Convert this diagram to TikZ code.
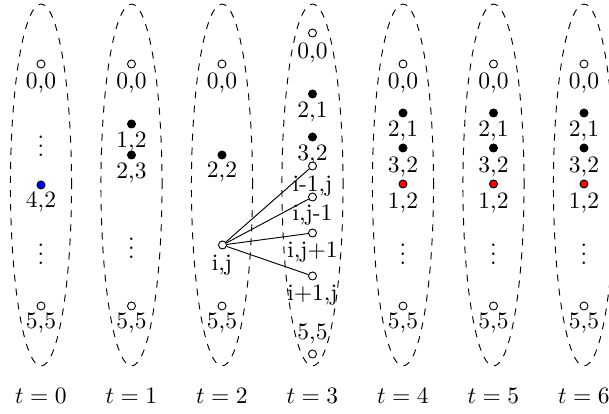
\documentclass[tikz,border=0pt]{standalone}
\usetikzlibrary{shapes.geometric}
\begin{document}
\begin{tikzpicture}[x=0.4255pt,y=-0.4255pt,
  opendot/.style={circle,draw,fill=white,minimum size=3.4pt,inner sep=0pt},
  fulldot/.style={circle,draw,fill=black,minimum size=3.4pt,inner sep=0pt},
  bluedot/.style={fulldot,fill=blue},
  reddot/.style={fulldot,fill=red},
  lab/.style={anchor=base,inner sep=0pt},
  slice/.style={draw,dashed},
  conn/.style={draw}]
\useasboundingbox (0,0) rectangle (609,414);
% slices
\foreach \cx in {41,131.5,222,312.5,403,493.5,584}{
  \path[slice] (\cx,185) ellipse [x radius=13pt, y radius=77pt];
}
% t = 0
\node[opendot] (a00) at (41,64) {};
\node[lab] (a00l) at (41,89) {0,0};
\node[lab] (av1) at (41,157) {$\vdots$};
\node[bluedot] (a42) at (41,185) {};
\node[lab] (a42l) at (41,208) {4,2};
\node[lab] (av2) at (41,265) {$\vdots$};
\node[opendot] (a55) at (41,306) {};
\node[lab] (a55l) at (41,329) {5,5};
\node[lab] (at) at (41,404) {$t=0$};
% t = 1
\node[opendot] (b00) at (131.5,64) {};
\node[lab] (b00l) at (131.5,89) {0,0};
\node[fulldot] (b12) at (131.5,124) {};
\node[lab] (b12l) at (131.5,148) {1,2};
\node[fulldot] (b23) at (131.5,155) {};
\node[lab] (b23l) at (131.5,179) {2,3};
\node[lab] (bv) at (131.5,259) {$\vdots$};
\node[opendot] (b55) at (131.5,306) {};
\node[lab] (b55l) at (131.5,329) {5,5};
\node[lab] (bt) at (131.5,404) {$t=1$};
% t = 2
\node[opendot] (c00) at (222,64) {};
\node[lab] (c00l) at (222,89) {0,0};
\node[fulldot] (c22) at (222,155) {};
\node[lab] (c22l) at (222,178) {2,2};
\node[opendot] (cij) at (222.5,245) {};
\node[lab] (cijl) at (222,271) {i,j};
\node[opendot] (c55) at (222,306) {};
\node[lab] (c55l) at (222,329) {5,5};
\node[lab] (ct) at (222,404) {$t=2$};
% t = 3
\node[opendot] (d00) at (312.5,33) {};
\node[lab] (d00l) at (312.5,59) {0,0};
\node[fulldot] (d21) at (312.5,94) {};
\node[lab] (d21l) at (312.5,118) {2,1};
\node[fulldot] (d32) at (312.5,137) {};
\node[lab] (d32l) at (312.5,161) {3,2};
\node[opendot] (dn) at (312.5,166) {};
\node[lab] (dnl) at (312.5,192) {i-1,j};
\node[opendot] (dw) at (312.5,197) {};
\node[lab] (dwl) at (312.5,221) {i,j-1};
\node[opendot] (de) at (312.5,233) {};
\node[lab] (del) at (312.5,258) {i,j+1};
\node[opendot] (ds) at (312.5,276) {};
\node[lab] (dsl) at (312.5,301) {i+1,j};
\node[lab] (d55l) at (312.5,340) {5,5};
\node[opendot] (d55) at (312.5,354) {};
\node[lab] (dt) at (312.5,404) {$t=3$};
\draw[conn] (cij) -- (dn);
\draw[conn] (cij) -- (dw);
\draw[conn] (cij) -- (de);
\draw[conn] (cij) -- (ds);
% t = 4, 5, 6
\foreach \cx/\nm/\tt in {403/e/4,493.5/f/5,584/g/6}{
  \node[opendot] (\nm00) at (\cx,64) {};
  \node[lab] (\nm00l) at (\cx,89) {0,0};
  \node[fulldot] (\nm21) at (\cx,113) {};
  \node[lab] (\nm21l) at (\cx,137) {2,1};
  \node[fulldot] (\nm32) at (\cx,148) {};
  \node[lab] (\nm32l) at (\cx,173) {3,2};
  \node[reddot] (\nm12) at (\cx,184) {};
  \node[lab] (\nm12l) at (\cx,209) {1,2};
  \node[lab] (\nm v) at (\cx,265) {$\vdots$};
  \node[opendot] (\nm55) at (\cx,306) {};
  \node[lab] (\nm55l) at (\cx,329) {5,5};
  \node[lab] (\nm t) at (\cx,404) {$t=\tt$};
}
\end{tikzpicture}
\end{document}
